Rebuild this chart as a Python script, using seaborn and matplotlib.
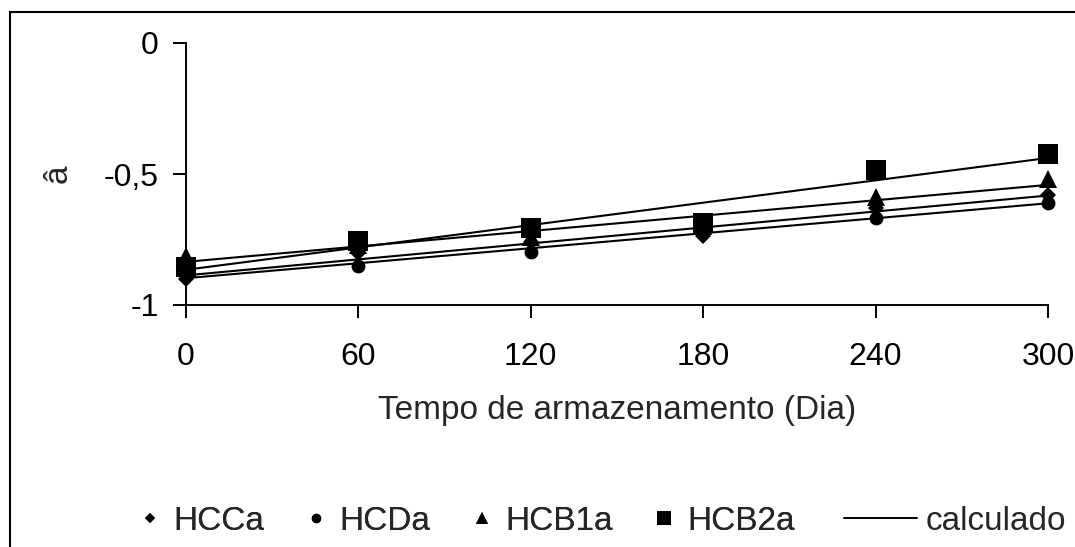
import numpy as np
import pandas as pd
import matplotlib
matplotlib.use("Agg")
import matplotlib.pyplot as plt
from matplotlib.lines import Line2D
from matplotlib.patches import Rectangle
import seaborn as sns

# ---- data ----
days = [0, 60, 120, 180, 240, 300]
series_names = ["HCCa", "HCDa", "HCB1a", "HCB2a"]
hcca = [-0.900, -0.800, -0.760, -0.737, -0.630, -0.580]
hcda = [-0.885, -0.851, -0.798, -0.715, -0.668, -0.611]
hcb1a = [-0.813, -0.770, -0.740, -0.700, -0.588, -0.519]
hcb2a = [-0.855, -0.756, -0.706, -0.687, -0.485, -0.424]
x_ticks = [0, 60, 120, 180, 240, 300]
y_ticks = [-1, -0.5, 0]
y_tick_labels = ["-1", "-0,5", "0"]
x_label = "Tempo de armazenamento (Dia)"
y_label = "â"
fit_label = "calculado"

values = {"HCCa": hcca, "HCDa": hcda, "HCB1a": hcb1a, "HCB2a": hcb2a}
df = pd.DataFrame(
    [(d, v, s) for s in series_names for d, v in zip(days, values[s])],
    columns=["dia", "a", "serie"],
)

sns.set_theme(style="white")
plt.rcParams["font.family"] = ["Liberation Sans", "DejaVu Sans"]
FS_TICK = 23
FS = 24

fig = plt.figure(figsize=(10.75, 5.47), dpi=100)
ax = fig.add_axes([186 / 1075, 1 - 305 / 547, (1048 - 186) / 1075, (305 - 43) / 547])

markers = {"HCCa": "D", "HCDa": "o", "HCB1a": "^", "HCB2a": "s"}
sizes = {"HCCa": 8, "HCDa": 10, "HCB1a": 13, "HCB2a": 14}

# regression lines (calculado)
for s in series_names:
    sub = df[df.serie == s]
    sns.regplot(data=sub, x="dia", y="a", ax=ax, scatter=False, ci=None,
                color="black", truncate=True,
                line_kws={"lw": 1.5, "solid_capstyle": "butt"})

# markers
for s in series_names:
    sub = df[df.serie == s]
    ax.plot(sub["dia"], sub["a"], linestyle="none", marker=markers[s],
            markersize=sizes[s], color="black", markeredgewidth=0,
            clip_on=False, zorder=5)

ax.set_xlim(0, 300)
ax.set_ylim(-1, 0)
ax.set_xticks(x_ticks)
ax.set_xticklabels([str(t) for t in x_ticks])
ax.set_yticks(y_ticks)
ax.set_yticklabels(y_tick_labels)
ax.set_xlabel(x_label, fontsize=FS, labelpad=17)
ax.set_ylabel(y_label, fontsize=FS, labelpad=22)
for sp in ["top", "right"]:
    ax.spines[sp].set_visible(False)
for sp in ["left", "bottom"]:
    ax.spines[sp].set_color("black")
    ax.spines[sp].set_linewidth(1.4)
ax.tick_params(axis="both", direction="out", length=9.5, width=1.4,
               color="black", labelsize=FS_TICK, labelcolor="black",
               left=True, bottom=True)
ax.tick_params(axis="x", pad=17)
ax.tick_params(axis="y", pad=10)
ax.set_facecolor("white")

# legend
mhandles = [Line2D([], [], linestyle="none", marker=markers[s],
                   markersize=sizes[s] * 0.68, color="black",
                   markeredgewidth=0) for s in series_names]
leg1 = fig.legend(mhandles, series_names, loc="center left",
                  bbox_to_anchor=(140 / 1075, 1 - 521 / 547), ncol=4,
                  frameon=False, fontsize=FS, handlelength=0.6,
                  handletextpad=0.4, columnspacing=1.25, borderpad=0,
                  borderaxespad=0)
fig.add_artist(leg1)
lhandle = [Line2D([], [], color="black", lw=1.4)]
fig.legend(lhandle, [fit_label], loc="center right",
           bbox_to_anchor=(1066 / 1075, 1 - 521 / 547), frameon=False,
           fontsize=FS, handlelength=2.2, handletextpad=0.25, borderpad=0,
           borderaxespad=0)

# outer chart-area border
fig.add_artist(Rectangle((10 / 1075, -0.05), 1.1, 1.05 - 12 / 547,
                         transform=fig.transFigure, fill=False,
                         edgecolor="black", lw=1.5))

fig.savefig("out.png", dpi=100, facecolor="white")
